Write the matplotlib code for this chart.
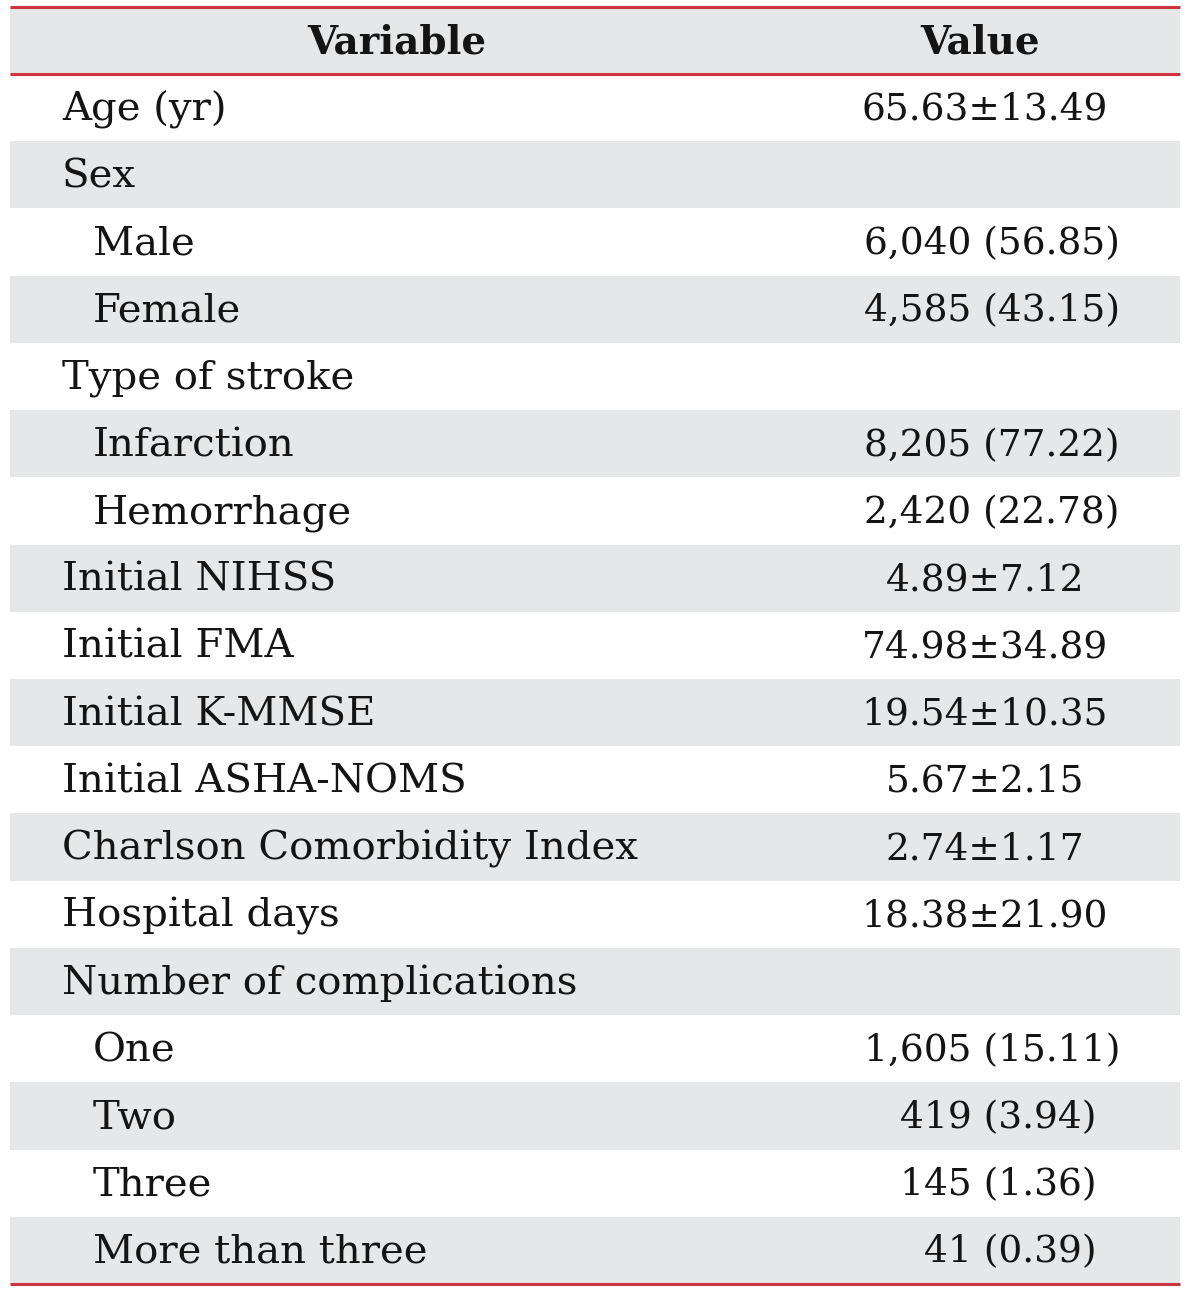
import matplotlib
matplotlib.use("Agg")
import matplotlib.pyplot as plt
from matplotlib.patches import Rectangle

header = ["Variable", "Value"]
variables = ["Age (yr)", "Sex", "Male", "Female", "Type of stroke", "Infarction",
             "Hemorrhage", "Initial NIHSS", "Initial FMA", "Initial K-MMSE",
             "Initial ASHA-NOMS", "Charlson Comorbidity Index", "Hospital days",
             "Number of complications", "One", "Two", "Three", "More than three"]
values = ["65.63±13.49", "", "6,040 (56.85)", "4,585 (43.15)", "", "8,205 (77.22)",
          "2,420 (22.78)", "4.89±7.12", "74.98±34.89", "19.54±10.35", "5.67±2.15",
          "2.74±1.17", "18.38±21.90", "", "1,605 (15.11)", "419 (3.94)",
          "145 (1.36)", "41 (0.39)"]
indented = [False, False, True, True, False, True, True, False, False, False,
            False, False, False, False, True, True, True, True]

W, H = 1200, 1292
fig = plt.figure(figsize=(W / 100, H / 100), dpi=100)
ax = fig.add_axes([0, 0, 1, 1])
ax.set_xlim(0, W)
ax.set_ylim(H, 0)
ax.axis("off")

FONT = "DejaVu Serif"
FS_H = 28
FS_L = 29
FS_V = 27
TXT = "#141414"
GRAY = "#e6e7e8"
RED = "#cc3540"
X0, X1 = 10, 1180
top, head_bot = 7, 74
row_h = (1284 - head_bot) / len(variables)

ax.add_patch(Rectangle((X0, top), X1 - X0, head_bot - top, color=GRAY, lw=0))
ax.text(397, (top + head_bot) / 2 + 2, header[0], ha="center", va="center",
        fontsize=FS_H, fontweight="bold", family=FONT, color=TXT)
ax.text(980, (top + head_bot) / 2 + 2, header[1], ha="center", va="center",
        fontsize=FS_H, fontweight="bold", family=FONT, color=TXT)

for i, (var, val, ind) in enumerate(zip(variables, values, indented)):
    y0 = head_bot + i * row_h
    yc = y0 + row_h / 2 + 2
    if i % 2 == 1:
        ax.add_patch(Rectangle((X0, y0), X1 - X0, row_h, color=GRAY, lw=0))
    ax.text(93 if ind else 62, yc, var, ha="left", va="center",
            fontsize=FS_L, family=FONT, color=TXT)
    if val:
        if "(" in val:
            cnt = val.split(" ")[0]
            xr = 1120 if len(cnt) >= 5 else 1097
            ax.text(xr, yc, val, ha="right", va="center",
                    fontsize=FS_V, family=FONT, color=TXT)
        else:
            ax.text(985, yc, val, ha="center", va="center",
                    fontsize=FS_V, family=FONT, color=TXT)

for y in (top, head_bot, head_bot + len(variables) * row_h):
    ax.plot([X0, X1], [y, y], color=RED, lw=2.2, solid_capstyle="butt")

fig.savefig("out.png", dpi=100)
